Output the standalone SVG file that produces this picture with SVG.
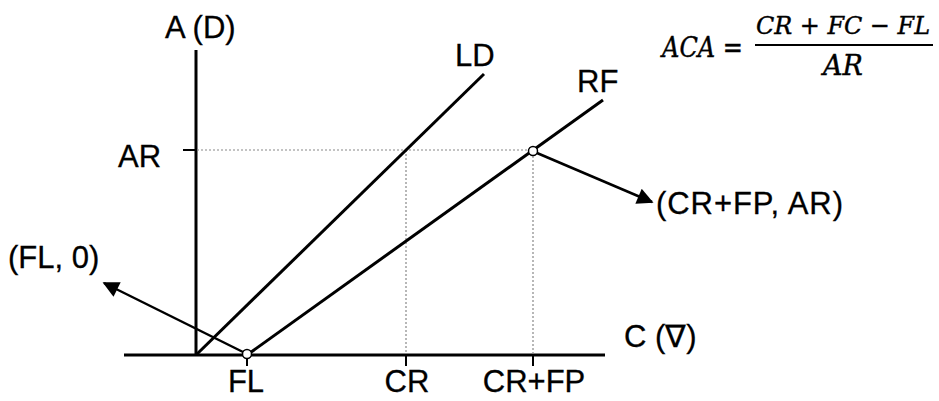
<svg xmlns="http://www.w3.org/2000/svg" width="939" height="401" viewBox="0 0 939 401">
<defs>
<style>
.lbl{font-family:"Liberation Sans",Arial,sans-serif;font-size:31px;fill:#000;stroke:#000;stroke-width:0.3}
.math{font-family:"DejaVu Serif","Liberation Serif",serif;font-style:italic;font-size:27px;fill:#000;stroke:#000;stroke-width:0.4}
.thick{stroke:#000;stroke-width:3;fill:none;stroke-linecap:butt}
.arr{stroke:#000;stroke-width:2.5;fill:none}
.dot{stroke:#888;stroke-width:1.2;stroke-dasharray:2 2;fill:none}
.tick{stroke:#000;stroke-width:2;fill:none}
</style>
<marker id="ah" viewBox="0 0 10 10" refX="9" refY="5" markerWidth="8" markerHeight="6.5" markerUnits="strokeWidth" orient="auto">
<path d="M0,0 L10,5 L0,10 z" fill="#000"/>
</marker>
</defs>
<rect width="939" height="401" fill="#fff"/>
<g id="axes">
<line class="thick" x1="196" y1="50" x2="196" y2="355"/>
<line class="thick" x1="124" y1="355" x2="605" y2="355"/>
<line class="tick" x1="183" y1="150" x2="196" y2="150"/>
<line class="tick" x1="406" y1="355" x2="406" y2="366"/>
<line class="tick" x1="533" y1="355" x2="533" y2="366"/>
<line class="tick" x1="247" y1="355" x2="247" y2="366"/>
</g>
<g id="guides">
<line class="dot" x1="197" y1="150" x2="528" y2="150"/>
<line class="dot" x1="406" y1="150" x2="406" y2="354"/>
<line class="dot" x1="533" y1="156" x2="533" y2="354"/>
</g>
<g id="LD">
<line class="thick" x1="196" y1="355" x2="484" y2="74"/>
<text class="lbl" x="455" y="66">LD</text>
</g>
<g id="RF">
<line class="thick" x1="247" y1="355" x2="603" y2="100"/>
<text class="lbl" x="577" y="92">RF</text>
</g>
<g id="connectors">
<line class="arr" x1="537" y1="153" x2="652" y2="202" marker-end="url(#ah)"/>
<line class="arr" x1="243" y1="352" x2="104" y2="283" marker-end="url(#ah)"/>
</g>
<g id="points">
<circle cx="247" cy="354" r="4.5" fill="#fff" stroke="#000" stroke-width="1.5"/>
<circle cx="533" cy="151" r="4.5" fill="#fff" stroke="#000" stroke-width="1.5"/>
</g>
<g id="labels">
<text class="lbl" x="165" y="38">A (D)</text>
<text class="lbl" x="118" y="167">AR</text>
<text class="lbl" x="8" y="268">(FL, 0)</text>
<text class="lbl" x="624" y="347">C (∇)</text>
<text class="lbl" x="656" y="214" textLength="187">(CR+FP, AR)</text>
<text class="lbl" x="246" y="392" text-anchor="middle">FL</text>
<text class="lbl" x="407" y="392" text-anchor="middle">CR</text>
<text class="lbl" x="534" y="392" text-anchor="middle">CR+FP</text>
</g>
<g id="formula">
<text class="math" x="662" y="57" textLength="81" lengthAdjust="spacingAndGlyphs">ACA =</text>
<text class="math" x="756" y="34" font-size="25" textLength="174" lengthAdjust="spacingAndGlyphs" style="font-size:25px">CR + FC − FL</text>
<line x1="755" y1="45" x2="933" y2="45" stroke="#000" stroke-width="2"/>
<text class="math" x="843" y="75" text-anchor="middle">AR</text>
</g>
</svg>
